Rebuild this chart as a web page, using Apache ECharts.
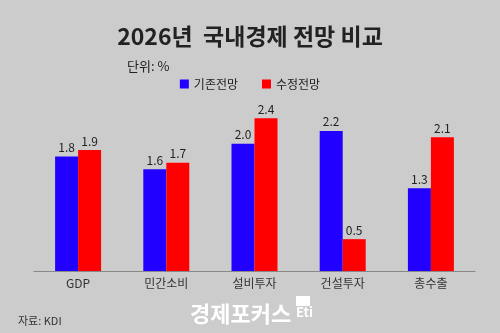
<!DOCTYPE html>
<html><head><meta charset="utf-8">
<script src="https://cdn.jsdelivr.net/npm/echarts@6/dist/echarts.min.js"></script>
<style>html,body{margin:0;padding:0;background:#cccccc}#c{width:500px;height:333px}</style>
</head><body><div id="c"></div>
<script>
const categories = ['GDP', '민간소비', '설비투자', '건설투자', '총수출'];
const seriesNames = ['기존전망', '수정전망'];
const baseline = [1.8, 1.6, 2.0, 2.2, 1.3];
const revised = [1.9, 1.7, 2.4, 0.5, 2.1];

const font = '"Noto Sans CJK KR", "Noto Sans", sans-serif';
const fmt = p => Number(p.value).toFixed(1);
const chart = echarts.init(document.getElementById('c'));
chart.setOption({
  backgroundColor: '#cccccc',
  animation: false,
  textStyle: { fontFamily: font },
  title: [
    { text: '2026년  국내경제 전망 비교', left: 'center', top: 20,
      textStyle: { fontFamily: font, fontSize: 23, fontWeight: 'bold', color: '#222' } },
    { text: '단위: %', left: 122, top: 55,
      textStyle: { fontFamily: font, fontSize: 13, fontWeight: 'normal', color: '#222' } },
    { text: '자료: KDI', left: 13, top: 310,
      textStyle: { fontFamily: font, fontSize: 11, fontWeight: 'normal', color: '#333' } }
  ],
  legend: {
    data: seriesNames, top: 73, left: 'center', itemWidth: 9, itemHeight: 9, itemGap: 24,
    icon: 'rect', textStyle: { fontFamily: font, fontSize: 12, color: '#222' }
  },
  grid: { left: 34, right: 25, top: 80, bottom: 62 },
  xAxis: {
    type: 'category', data: categories,
    axisLine: { lineStyle: { color: '#888', width: 1 } },
    axisTick: { show: false },
    axisLabel: { fontFamily: font, fontSize: 12, color: '#333', margin: 6 }
  },
  yAxis: { type: 'value', min: 0, max: 3, show: false, splitLine: { show: false } },
  series: [
    { name: seriesNames[0], type: 'bar', data: baseline, barWidth: 23, barGap: '0%',
      itemStyle: { color: '#2200ff' },
      label: { show: true, position: 'top', distance: 3, formatter: fmt, fontFamily: font, fontSize: 12, color: '#222' } },
    { name: seriesNames[1], type: 'bar', data: revised, barWidth: 23,
      itemStyle: { color: '#ff0000' },
      label: { show: true, position: 'top', distance: 3, formatter: fmt, fontFamily: font, fontSize: 12, color: '#222' } }
  ],
  graphic: [
    { type: 'text', left: 190, top: 303,
      style: { text: '경제포커스', fontFamily: font, fontSize: 22, fontWeight: 'bold', fill: '#ffffff' } },
    { type: 'rect', left: 296, top: 296, shape: { width: 14, height: 10 }, style: { fill: '#ffffff' } },
    { type: 'text', left: 296, top: 306,
      style: { text: 'Eti', fontFamily: font, fontSize: 13, fontWeight: 'bold', fill: '#ffffff' } }
  ]
});
</script></body></html>
